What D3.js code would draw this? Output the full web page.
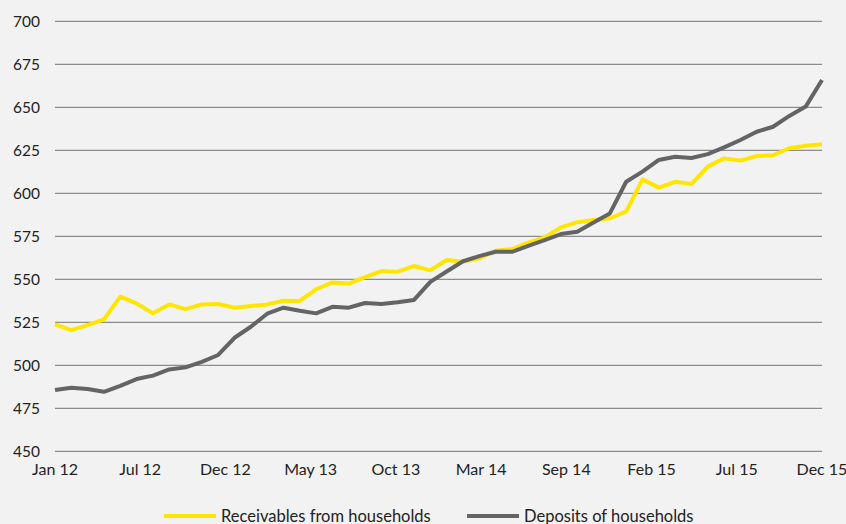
<!DOCTYPE html>
<html>
<head>
<meta charset="utf-8">
<script src="https://cdn.jsdelivr.net/npm/d3@7"></script>
<style>
  body { margin: 0; background: #f2f2f2; }
  svg { display: block; }
  text { font-family: Lato, "Open Sans", sans-serif; fill: #222; }
</style>
</head>
<body>
<div id="chart"></div>
<script>
// monthly values, Jan 12 .. Dec 15
var receivables = [523.8, 520.5, 523.4, 526.7, 539.9, 536.0, 530.2, 535.4, 532.7, 535.4, 535.6, 533.5,
                   534.5, 535.4, 537.5, 537.4, 544.2, 548.2, 547.5, 551.2, 554.8, 554.4, 557.7, 555.2,
                   561.2, 560.2, 562.2, 566.6, 567.6, 571.3, 574.3, 580.2, 583.2, 584.5, 585.5, 589.3,
                   608.1, 603.3, 606.7, 605.4, 615.5, 620.3, 619.0, 621.7, 622.1, 626.2, 627.7, 628.5];
var deposits = [485.6, 487.0, 486.2, 484.6, 488.0, 492.0, 494.0, 497.6, 498.8, 502.0, 506.0, 516.0,
                522.4, 530.0, 533.5, 531.7, 530.2, 534.0, 533.5, 536.2, 535.6, 536.6, 538.0, 548.5,
                554.5, 560.5, 563.5, 566.0, 566.0, 569.4, 572.8, 576.3, 577.7, 583.0, 588.3, 606.7,
                612.6, 619.4, 621.2, 620.5, 622.8, 626.7, 631.0, 635.8, 638.7, 645.0, 650.4, 665.9];
var xLabels = ["Jan 12", "Jul 12", "Dec 12", "May 13", "Oct 13", "Mar 14", "Sep 14", "Feb 15", "Jul 15", "Dec 15"];
var yTicks = [450, 475, 500, 525, 550, 575, 600, 625, 650, 675, 700];
var seriesNames = ["Receivables from households", "Deposits of households"];

var width = 846, height = 524;
var colors = ["#ffe600", "#646464"];

var svg = d3.select("#chart").append("svg")
    .attr("width", width)
    .attr("height", height);

var x = d3.scaleLinear().domain([0, receivables.length - 1]).range([55, 822]);
var y = d3.scaleLinear().domain([450, 700]).range([451.3, 21.3]);

// gridlines
svg.selectAll(".grid")
    .data(yTicks)
    .enter().append("line")
      .attr("x1", 55)
      .attr("x2", 822)
      .attr("y1", function(d) { return y(d); })
      .attr("y2", function(d) { return y(d); })
      .attr("stroke", "#8c8c8c")
      .attr("stroke-width", 1.3);

svg.selectAll(".yLabel")
    .data(yTicks)
    .enter().append("text")
      .attr("x", 40)
      .attr("y", function(d) { return y(d); })
      .attr("dy", "0.35em")
      .style("text-anchor", "end")
      .style("font-size", "15.5px")
      .text(function(d) { return d; });

// labels sit evenly along the axis, not on month points
var last = receivables.length - 1;
svg.selectAll(".xLabel")
    .data(xLabels)
    .enter().append("text")
      .attr("x", function(d, i) { return x(i * last / (xLabels.length - 1)); })
      .attr("y", 475)
      .style("text-anchor", "middle")
      .style("font-size", "16px")
      .text(function(d) { return d; });

var line = d3.line()
    .x(function(d, i) { return x(i); })
    .y(function(d) { return y(d); });

[receivables, deposits].forEach(function(s, k) {
  svg.append("path")
      .datum(s)
      .attr("fill", "none")
      .attr("stroke", colors[k])
      .attr("stroke-width", 4)
      .attr("stroke-linejoin", "round")
      .attr("d", line);
});

// legend
var legendX = [164, 467];
var legend = svg.selectAll(".legend")
    .data(seriesNames)
    .enter().append("g")
      .attr("transform", function(d, i) { return "translate(" + legendX[i] + ",516)"; });

legend.append("line")
    .attr("x1", 0).attr("x2", 52)
    .attr("stroke", function(d, i) { return colors[i]; })
    .attr("stroke-width", 4);

legend.append("text")
    .attr("x", 57)
    .attr("dy", "0.35em")
    .style("font-size", "16.5px")
    .text(function(d) { return d; });
</script>
</body>
</html>
